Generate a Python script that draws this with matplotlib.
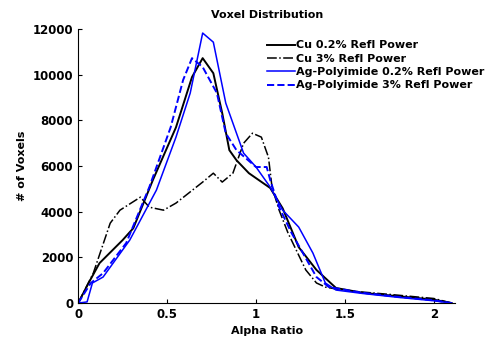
import matplotlib.pyplot as plt
import matplotlib

matplotlib.rcParams['font.family'] = 'DejaVu Sans'
matplotlib.rcParams['font.size'] = 8
matplotlib.rcParams['font.weight'] = 'bold'

# Cu 0.2% reflected power
cu02_x = [0, 0.06, 0.12, 0.25, 0.31, 0.42, 0.55, 0.64, 0.70, 0.76, 0.81, 0.85, 0.89, 0.96, 1.08, 1.15, 1.24, 1.34, 1.45, 1.6, 1.8, 2.0, 2.1]
cu02_y = [0, 900, 1750, 2760, 3280, 5390, 7700, 9900, 10730, 10070, 8320, 6700, 6260, 5690, 5040, 4150, 2450, 1450, 660, 450, 300, 150, 0]

# Cu 3% reflected power
cu3_x = [0, 0.085, 0.18, 0.235, 0.35, 0.40, 0.48, 0.55, 0.70, 0.76, 0.81, 0.87, 0.93, 0.98, 1.03, 1.07, 1.09, 1.13, 1.18, 1.28, 1.34, 1.39, 1.5, 1.75, 2.0, 2.1]
cu3_y = [0, 1310, 3500, 4070, 4640, 4200, 4070, 4380, 5300, 5690, 5300, 5690, 7000, 7440, 7270, 6390, 5080, 4070, 3070, 1450, 880, 700, 550, 380, 200, 0]

# Ag-Polyimide 0.2% reflected power
ag02_x = [0, 0.05, 0.08, 0.14, 0.29, 0.44, 0.55, 0.63, 0.70, 0.76, 0.83, 0.93, 1.0, 1.08, 1.15, 1.24, 1.32, 1.39, 1.45, 1.6, 1.8, 2.0, 2.1]
ag02_y = [0, 50, 880, 1140, 2760, 4950, 7270, 9200, 11830, 11430, 8760, 6570, 5960, 5080, 4070, 3330, 2190, 880, 570, 420, 250, 100, 0]

# Ag-Polyimide 3% reflected power
ag3_x = [0, 0.07, 0.14, 0.27, 0.40, 0.52, 0.59, 0.64, 0.70, 0.78, 0.83, 0.89, 1.0, 1.06, 1.08, 1.13, 1.20, 1.34, 1.41, 1.6, 1.8, 2.0, 2.1]
ag3_y = [0, 870, 1310, 2630, 5080, 7700, 9770, 10730, 10340, 9200, 7440, 6700, 5960, 5960, 5390, 4200, 3070, 1140, 700, 450, 270, 120, 0]

fig = plt.figure(figsize=(4.98, 3.39), dpi=100)
ax = fig.add_axes([0.157, 0.106, 0.757, 0.808])

ax.plot(cu02_x, cu02_y, '-', color='black', linewidth=1.4, label='Cu 0.2% Refl Power')
ax.plot(cu3_x, cu3_y, '-.', color='black', linewidth=1.1, label='Cu 3% Refl Power')
ax.plot(ag02_x, ag02_y, '-', color='blue', linewidth=1.1, label='Ag-Polyimide 0.2% Refl Power')
ax.plot(ag3_x, ag3_y, '--', color='blue', linewidth=1.4, label='Ag-Polyimide 3% Refl Power')

ax.set_xlim(0, 2.12)
ax.set_ylim(0, 12000)
ax.set_xticks([0, 0.5, 1, 1.5, 2])
ax.set_xticklabels(['0', '0.5', '1', '1.5', '2'])
ax.set_yticks(range(0, 12001, 2000))
ax.spines['top'].set_visible(False)
ax.spines['right'].set_visible(False)
ax.tick_params(direction='in', length=3, width=0.8, labelsize=8.5)

ax.set_xlabel('Alpha Ratio', fontweight='bold')
ax.set_ylabel('# of Voxels', fontweight='bold')
ax.set_title('Voxel Distribution', fontweight='bold', fontsize=8, pad=8)

ax.legend(loc='upper right', bbox_to_anchor=(1.09, 0.975), frameon=False, handlelength=2.5,
          handletextpad=0.1, labelspacing=0.3, borderaxespad=0, fontsize=8)

plt.savefig('out.png', dpi=100)
plt.close()
